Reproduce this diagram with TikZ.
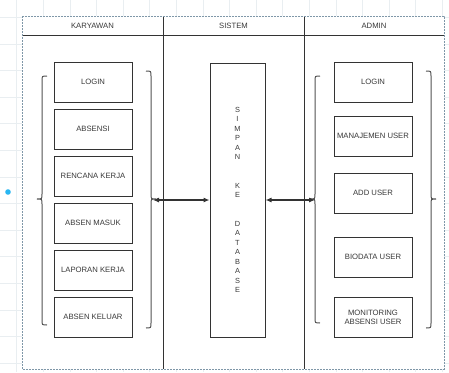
\documentclass[tikz,border=0pt]{standalone}
\usepackage{fontspec}
\setmainfont{Liberation Sans}
\usetikzlibrary{arrows.meta}
\definecolor{ink}{HTML}{333333}
\definecolor{txt}{HTML}{3A3A3A}
\definecolor{gridc}{HTML}{E9EEF1}
\definecolor{frame}{HTML}{7F97A8}
\definecolor{handle}{HTML}{29B6F2}
\tikzset{
  box/.style={draw=ink, line width=1pt, fill=white, minimum width=78pt, minimum height=40pt,
    inner sep=1pt, align=center, text=txt, font=\fontsize{7.7}{9.2}\selectfont},
  hdr/.style={text=txt, font=\fontsize{7.7}{9}\selectfont},
  lane/.style={draw=ink, line width=1pt},
  brace/.style={draw=ink!85, line width=1pt},
  link/.style={draw=ink, line width=1.1pt, {Latex[length=6pt,width=5pt]}-{Latex[length=6pt,width=5pt]}},
}
\begin{document}
\begin{tikzpicture}[x=1pt,y=-1pt]
\useasboundingbox (0,0) rectangle (449,372);
\fill[white] (0,0) rectangle (449,372);
% faint background grid
\foreach \i in {0,...,17} {
  \draw[gridc, line width=0.6pt] ({16.6+26.6*\i},0) -- ({16.6+26.6*\i},372);
}
\foreach \i in {0,...,14} {
  \draw[gridc, line width=0.6pt] (0,{-9.4+26.6*\i}) -- (449,{-9.4+26.6*\i});
}
% pool
\fill[white] (22,16) rectangle (444,369);
\draw[lane] (22,35) -- (444,35);
\draw[lane] (163,16) -- (163,369);
\draw[lane] (304,16) -- (304,369);
\draw[frame, line width=1pt, dashed, dash pattern=on 2pt off 1pt] (22,16) rectangle (444,369);
% headers
\node[hdr] (hk) at (92.5,25.5) {KARYAWAN};
\node[hdr] (hs) at (233.5,25.5) {SISTEM};
\node[hdr] (ha) at (374,25.5) {ADMIN};
% selection handle
\fill[handle] (8,192) circle (2.8pt);
% karyawan boxes
\node[box] (k1) at (93,82) {LOGIN};
\node[box] (k2) at (93,129) {ABSENSI};
\node[box] (k3) at (93,176) {RENCANA KERJA};
\node[box] (k4) at (93,223) {ABSEN MASUK};
\node[box] (k5) at (93,270) {LAPORAN KERJA};
\node[box] (k6) at (93,317) {ABSEN KELUAR};
% admin boxes
\node[box] (a1) at (373,82) {LOGIN};
\node[box] (a2) at (373,136) {MANAJEMEN USER};
\node[box] (a3) at (373,193) {ADD USER};
\node[box] (a4) at (373,257) {BIODATA USER};
\node[box] (a5) at (373,317) {MONITORING\\ABSENSI USER};
% database
\node[box, minimum width=55pt, minimum height=274pt, font=\fontsize{7.4}{9.5}\selectfont] (db) at (237.5,200)
  {S\\I\\M\\P\\A\\N\\[19pt]K\\E\\[19pt]D\\A\\T\\A\\B\\A\\S\\E};
% braces
\draw[brace] (47,76) .. controls (42,76) and (42,76) .. (42,81) -- (42,194)
  .. controls (42,199) and (42,199) .. (37,199) coordinate (kl)
  .. controls (42,199) and (42,199) .. (42,204) -- (42,320)
  .. controls (42,325) and (42,325) .. (47,325);
\draw[brace] (146,71) .. controls (151,71) and (151,71) .. (151,76) -- (151,194)
  .. controls (151,199) and (151,199) .. (156,199) coordinate (kr)
  .. controls (151,199) and (151,199) .. (151,204) -- (151,323)
  .. controls (151,328) and (151,328) .. (146,328);
\draw[brace] (320,76) .. controls (315,76) and (315,76) .. (315,81) -- (315,194)
  .. controls (315,199) and (315,199) .. (310,199) coordinate (al)
  .. controls (315,199) and (315,199) .. (315,204) -- (315,318)
  .. controls (315,323) and (315,323) .. (320,323);
\draw[brace] (426,71) .. controls (431,71) and (431,71) .. (431,76) -- (431,194)
  .. controls (431,199) and (431,199) .. (436,199) coordinate (ar)
  .. controls (431,199) and (431,199) .. (431,204) -- (431,323)
  .. controls (431,328) and (431,328) .. (426,328);
% connectors
\coordinate (kre) at (153,200);
\coordinate (ale) at (315,200);
\draw[link] (kre) -- (db.west |- kre);
\draw[link] (db.east |- ale) -- (ale);
\end{tikzpicture}
\end{document}
